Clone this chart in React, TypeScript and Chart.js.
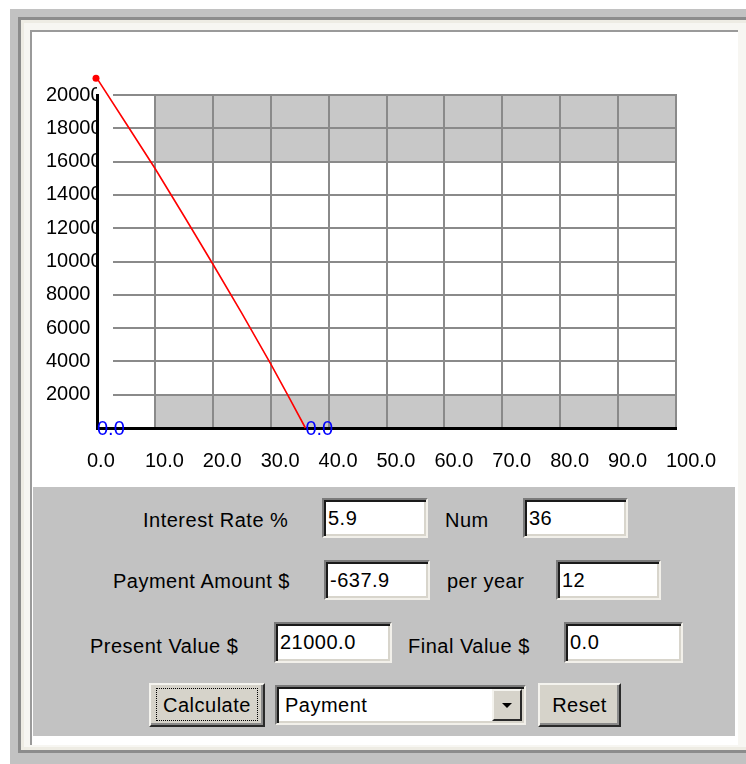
import React, { useEffect, useRef } from 'react';
import { Chart, registerables } from 'chart.js';

Chart.register(...registerables);

// ---- chart data ----
const months = [0, 5, 10, 15, 20, 25, 30, 33, 36];
const balance = [21000, 18300, 15600, 12750, 9850, 6900, 3850, 1950, 0];
const xTickValues = [0, 10, 20, 30, 40, 50, 60, 70, 80, 90, 100];
const yTickValues = [0, 2000, 4000, 6000, 8000, 10000, 12000, 14000, 16000, 18000, 20000];
const bandXFrom = [10, 10];
const bandXTo = [100, 100];
const bandYFrom = [16000, 0];
const bandYTo = [20000, 2000];
const markerX = [0, 36];
const markerY = [0, 0];
const markerText = ['0.0', '0.0'];

// ---- form data ----
const fieldLabels = ['Interest Rate %', 'Num', 'Payment Amount $', 'per year', 'Present Value $', 'Final Value $'];
const fieldValues = ['5.9', '36', '-637.9', '12', '21000.0', '0.0'];
const buttonLabels = ['Calculate', 'Reset'];
const comboValue = 'Payment';

const FONT = "'Liberation Sans', Arial, Helvetica, sans-serif";

function LoanChart() {
  const ref = useRef<HTMLCanvasElement | null>(null);
  useEffect(() => {
    const canvas = ref.current;
    if (!canvas) return;
    const font = { family: FONT, size: 20 };
    const decorPlugin = {
      id: 'decor',
      beforeDraw(chart: any) {
        const { ctx } = chart;
        const x = chart.scales.x;
        const y = chart.scales.y;
        ctx.save();
        ctx.fillStyle = '#c8c8c8';
        for (let i = 0; i < bandXFrom.length; i++) {
          const l = x.getPixelForValue(bandXFrom[i]);
          const r = x.getPixelForValue(bandXTo[i]);
          const t = y.getPixelForValue(bandYTo[i]);
          const b = y.getPixelForValue(bandYFrom[i]);
          ctx.fillRect(l, t, r - l, b - t);
        }
        ctx.strokeStyle = '#8a8a8a';
        ctx.lineWidth = 2;
        const gapLeft = x.left + 16;
        y.ticks.forEach((t: any) => {
          if (t.value === 0) return;
          const py = Math.round(y.getPixelForValue(t.value));
          ctx.beginPath();
          ctx.moveTo(gapLeft, py);
          ctx.lineTo(x.right + 1, py);
          ctx.stroke();
        });
        x.ticks.forEach((t: any) => {
          if (t.value === 0) return;
          const px = Math.round(x.getPixelForValue(t.value));
          ctx.beginPath();
          ctx.moveTo(px, y.top - 1);
          ctx.lineTo(px, y.bottom);
          ctx.stroke();
        });
        ctx.restore();
      },
      afterDatasetsDraw(chart: any) {
        const { ctx } = chart;
        const x = chart.scales.x;
        const y = chart.scales.y;
        ctx.save();
        // start point dot (lies above the plot area)
        ctx.fillStyle = '#ff0000';
        ctx.beginPath();
        ctx.arc(x.getPixelForValue(months[0]) - 1, y.getPixelForValue(balance[0]), 3.5, 0, Math.PI * 2);
        ctx.fill();
        ctx.fillStyle = '#0000ff';
        ctx.font = `20px ${FONT}`;
        ctx.textAlign = 'left';
        ctx.textBaseline = 'middle';
        for (let i = 0; i < markerX.length; i++) {
          ctx.fillText(markerText[i], x.getPixelForValue(markerX[i]), y.getPixelForValue(markerY[i]) + 1);
        }
        ctx.restore();
      },
    };
    const chart = new Chart(canvas, {
      type: 'line',
      data: {
        datasets: [
          {
            data: months.map((m, i) => ({ x: m, y: balance[i] })),
            borderColor: '#ff0000',
            borderWidth: 1.6,
            pointRadius: 0,
            tension: 0,
            clip: false as any,
          },
        ],
      },
      options: {
        responsive: false,
        animation: false,
        layout: { padding: { left: 13, right: 61, top: 62, bottom: 0 } },
        plugins: { legend: { display: false }, tooltip: { enabled: false } },
        scales: {
          x: {
            type: 'linear',
            min: 0,
            max: 100,
            grid: { display: false },
            border: { display: true, color: '#000', width: 3 },
            ticks: {
              font,
              color: '#000',
              align: 'start',
              labelOffset: -10,
              padding: 13,
              autoSkip: false,
              maxRotation: 0,
              callback: (v: any) => Number(v).toFixed(1),
            },
            afterBuildTicks: (s: any) => {
              s.ticks = xTickValues.map((v) => ({ value: v }));
            },
            afterFit: (s: any) => {
              s.height = 59;
              s.paddingLeft = 0;
              s.paddingRight = 0;
            },
          },
          y: {
            type: 'linear',
            min: 0,
            max: 20000,
            grid: { display: false },
            border: { display: true, color: '#000', width: 3 },
            ticks: {
              font,
              color: '#000',
              crossAlign: 'far',
              autoSkip: false,
              callback: (v: any) => (Number(v) === 0 ? '' : String(v)),
            },
            afterBuildTicks: (s: any) => {
              s.ticks = yTickValues.map((v) => ({ value: v }));
            },
            afterFit: (s: any) => {
              s.width = 51;
              s.paddingTop = 0;
              s.paddingBottom = 0;
            },
          },
        },
      } as any,
      plugins: [decorPlugin],
    });
    return () => chart.destroy();
  }, []);
  return <canvas ref={ref} width={704} height={454} style={{ position: 'absolute', left: 33, top: 33, width: 704, height: 454 }} />;
}

const textStyle: React.CSSProperties = {
  fontFamily: FONT,
  fontSize: 20,
  letterSpacing: '0.5px',
  color: '#000',
  whiteSpace: 'nowrap',
};

function Label({ x, cy, text }: { x: number; cy: number; text: string }) {
  return (
    <div style={{ ...textStyle, position: 'absolute', left: x, top: cy - 12, height: 24, lineHeight: '24px' }}>{text}</div>
  );
}

function Field({ x, y, w, h, value }: { x: number; y: number; w: number; h: number; value: string }) {
  return (
    <div
      style={{
        ...textStyle,
        position: 'absolute',
        left: x,
        top: y,
        width: w,
        height: h,
        boxSizing: 'border-box',
        background: '#fff',
        borderTop: '2px solid #7a7a7a',
        borderLeft: '2px solid #7a7a7a',
        borderBottom: '2px solid #f2f0ea',
        borderRight: '2px solid #f2f0ea',
        boxShadow: 'inset 2px 2px 0 #1a1a1a, inset -2px -2px 0 #d8d5cc',
        lineHeight: `${h - 4}px`,
        paddingLeft: 4,
      }}
    >
      {value}
    </div>
  );
}

function Button({ x, y, w, h, text, focus }: { x: number; y: number; w: number; h: number; text: string; focus?: boolean }) {
  return (
    <div
      style={{
        ...textStyle,
        position: 'absolute',
        left: x,
        top: y,
        width: w,
        height: h,
        boxSizing: 'border-box',
        background: '#d6d3ca',
        borderTop: '2px solid #f4f3ee',
        borderLeft: '2px solid #f4f3ee',
        borderBottom: '2px solid #2a2a2a',
        borderRight: '2px solid #2a2a2a',
        boxShadow: 'inset -2px -2px 0 #8a8a8a',
        textAlign: 'center',
        lineHeight: `${h - 4}px`,
      }}
    >
      {focus && (
        <div
          style={{
            position: 'absolute',
            left: 5,
            top: 3,
            right: 5,
            bottom: 4,
            border: '1px dotted #000',
          }}
        />
      )}
      {text}
    </div>
  );
}

function Combo({ x, y, w, h, value }: { x: number; y: number; w: number; h: number; value: string }) {
  return (
    <div
      style={{
        ...textStyle,
        position: 'absolute',
        left: x,
        top: y,
        width: w,
        height: h,
        boxSizing: 'border-box',
        background: '#fff',
        borderTop: '2px solid #7a7a7a',
        borderLeft: '2px solid #7a7a7a',
        borderBottom: '2px solid #f2f0ea',
        borderRight: '2px solid #f2f0ea',
        boxShadow: 'inset 2px 2px 0 #1a1a1a, inset -2px -2px 0 #d8d5cc',
        lineHeight: `${h - 4}px`,
        paddingLeft: 8,
      }}
    >
      {value}
      <div
        style={{
          position: 'absolute',
          right: 2,
          top: 2,
          width: 30,
          bottom: 2,
          boxSizing: 'border-box',
          background: '#d6d3ca',
          borderTop: '2px solid #f4f3ee',
          borderLeft: '2px solid #f4f3ee',
          borderBottom: '2px solid #2a2a2a',
          borderRight: '2px solid #2a2a2a',
        }}
      >
        <div
          style={{
            position: 'absolute',
            left: 8,
            top: 12,
            width: 0,
            height: 0,
            borderLeft: '5px solid transparent',
            borderRight: '5px solid transparent',
            borderTop: '5px solid #000',
          }}
        />
      </div>
    </div>
  );
}

export default function App() {
  return (
    <div style={{ position: 'absolute', left: 0, top: 0, width: 746, height: 764, background: '#fff', overflow: 'hidden' }}>
      {/* outer frame */}
      <div style={{ position: 'absolute', left: 10, top: 9, width: 736, height: 755, background: '#c2c2c2' }} />
      <div style={{ position: 'absolute', left: 18, top: 17, width: 728, height: 736, background: '#8c8c8c' }} />
      <div style={{ position: 'absolute', left: 21, top: 20, width: 725, height: 730, background: '#eeece4' }} />
      <div style={{ position: 'absolute', left: 24, top: 23, width: 722, height: 724, background: '#f7f6f2' }} />
      <div style={{ position: 'absolute', left: 30, top: 30, width: 708, height: 715, background: '#9a9a9a' }} />
      <div style={{ position: 'absolute', left: 32, top: 32, width: 706, height: 713, background: '#fff' }} />
      {/* controls panel */}
      <div style={{ position: 'absolute', left: 33, top: 487, width: 702, height: 249, background: '#c2c2c2' }} />

      <LoanChart />

      <Label x={143} cy={520} text={fieldLabels[0]} />
      <Field x={322} y={498} w={106} h={40} value={fieldValues[0]} />
      <Label x={445} cy={520} text={fieldLabels[1]} />
      <Field x={523} y={498} w={105} h={40} value={fieldValues[1]} />

      <Label x={113} cy={581} text={fieldLabels[2]} />
      <Field x={324} y={560} w={106} h={40} value={fieldValues[2]} />
      <Label x={447} cy={581} text={fieldLabels[3]} />
      <Field x={556} y={560} w={105} h={40} value={fieldValues[3]} />

      <Label x={90} cy={646} text={fieldLabels[4]} />
      <Field x={274} y={622} w={118} h={41} value={fieldValues[4]} />
      <Label x={408} cy={646} text={fieldLabels[5]} />
      <Field x={564} y={622} w={119} h={41} value={fieldValues[5]} />

      <Button x={149} y={683} w={116} h={44} text={buttonLabels[0]} focus />
      <Combo x={275} y={685} w={251} h={40} value={comboValue} />
      <Button x={538} y={683} w={83} h={44} text={buttonLabels[1]} />
    </div>
  );
}
